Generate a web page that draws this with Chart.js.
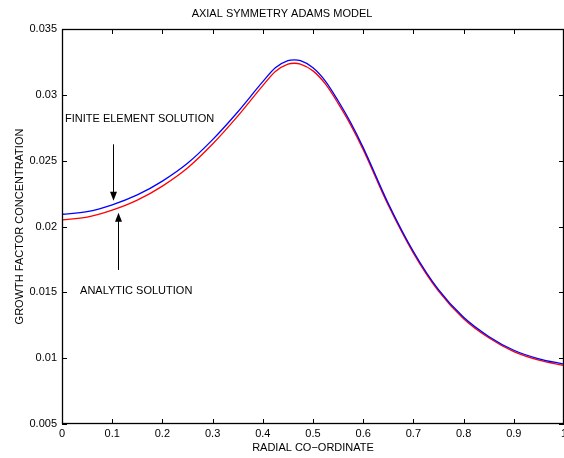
<!DOCTYPE html>
<html>
<head>
<meta charset="utf-8">
<script src="https://cdn.jsdelivr.net/npm/chart.js@4/dist/chart.umd.min.js"></script>
<style>
  html, body { margin: 0; padding: 0; background: #fff; overflow: hidden; }
  #wrap { width: 564px; height: 458px; overflow: hidden; }
</style>
</head>
<body>
<div id="wrap"><canvas id="adamsChart" width="580" height="458"></canvas></div>
<script>
// radial co-ordinate samples
const radius = [0, 0.05, 0.1, 0.15, 0.2, 0.25, 0.3, 0.35, 0.4, 0.425, 0.45, 0.4625, 0.475, 0.5,
  0.525, 0.55, 0.575, 0.6, 0.65, 0.7, 0.75, 0.8, 0.85, 0.9, 0.95, 1.0];

// finite element solution (blue)
const finiteElement = [0.02093, 0.02113, 0.02165, 0.02240, 0.02345, 0.02480, 0.02660, 0.02870,
  0.03100, 0.03205, 0.03259, 0.03265, 0.03259, 0.03206, 0.03103, 0.02955, 0.02790, 0.02600,
  0.02175, 0.01810, 0.01520, 0.01310, 0.01165, 0.01060, 0.00995, 0.00955];

// analytic solution (red)
const analytic = [0.02051, 0.02071, 0.02124, 0.02200, 0.02307, 0.02444, 0.02626, 0.02838,
  0.03070, 0.03177, 0.03233, 0.03240, 0.03234, 0.03182, 0.03081, 0.02935, 0.02772, 0.02584,
  0.02161, 0.01798, 0.01509, 0.01300, 0.01155, 0.01050, 0.00985, 0.00945];

const xTickValues = [0, 0.1, 0.2, 0.3, 0.4, 0.5, 0.6, 0.7, 0.8, 0.9, 1];
const xTickLabels = ['0', '0.1', '0.2', '0.3', '0.4', '0.5', '0.6', '0.7', '0.8', '0.9', '1'];
const yTickValues = [0.005, 0.01, 0.015, 0.02, 0.025, 0.03, 0.035];
const yTickLabels = ['0.005', '0.01', '0.015', '0.02', '0.025', '0.03', '0.035'];

const FONT = { family: '"Liberation Sans", Arial, Helvetica, sans-serif', size: 11 };

// text labels and arrows, placed in data units
const notes = [
  { text: 'FINITE ELEMENT SOLUTION', x: 0.006, y: 0.02816 },
  { text: 'ANALYTIC SOLUTION', x: 0.036, y: 0.0151 }
];
const arrows = [
  { x: 0.102, from: 0.02624, to: 0.02196 },
  { x: 0.112, from: 0.0167, to: 0.02105 }
];

// matlab style box with inward ticks, plus the annotations
const framePlugin = {
  id: 'frame',
  afterDatasetsDraw(chart) {
    const { ctx, chartArea: a, scales: { x, y } } = chart;
    ctx.save();
    ctx.strokeStyle = '#000';
    ctx.lineWidth = 1;
    ctx.beginPath();
    x.ticks.forEach(t => {
      const px = Math.round(x.getPixelForValue(t.value)) + 0.5;
      ctx.moveTo(px, a.bottom); ctx.lineTo(px, a.bottom - 5);
      ctx.moveTo(px, a.top); ctx.lineTo(px, a.top + 5);
    });
    y.ticks.forEach(t => {
      const py = Math.round(y.getPixelForValue(t.value)) + 0.5;
      ctx.moveTo(a.left, py); ctx.lineTo(a.left + 5, py);
      ctx.moveTo(a.right, py); ctx.lineTo(a.right - 5, py);
    });
    ctx.stroke();
    ctx.lineWidth = 1.3;
    ctx.strokeRect(a.left + 0.5, a.top + 0.5, a.right - a.left - 1, a.bottom - a.top - 1);

    ctx.fillStyle = '#000';
    ctx.font = FONT.size + 'px ' + FONT.family;
    ctx.textBaseline = 'middle';
    ctx.textAlign = 'left';
    notes.forEach(n => ctx.fillText(n.text, x.getPixelForValue(n.x), y.getPixelForValue(n.y)));

    ctx.lineWidth = 1;
    arrows.forEach(ar => {
      const px = Math.round(x.getPixelForValue(ar.x)) + 0.5;
      const y0 = y.getPixelForValue(ar.from);
      const y1 = y.getPixelForValue(ar.to);
      const dir = y1 > y0 ? 1 : -1;
      ctx.beginPath();
      ctx.moveTo(px, y0); ctx.lineTo(px, y1 - dir * 7);
      ctx.stroke();
      ctx.beginPath();
      ctx.moveTo(px, y1);
      ctx.lineTo(px - 3.5, y1 - dir * 9);
      ctx.lineTo(px + 3.5, y1 - dir * 9);
      ctx.closePath();
      ctx.fill();
    });
    ctx.restore();
  }
};

new Chart(document.getElementById('adamsChart').getContext('2d'), {
  type: 'line',
  data: {
    datasets: [
      {
        label: 'Finite element solution',
        data: radius.map((r, i) => ({ x: r, y: finiteElement[i] })),
        borderColor: '#0000ff',
        borderWidth: 1.3,
        pointRadius: 0,
        cubicInterpolationMode: 'monotone',
        fill: false
      },
      {
        label: 'Analytic solution',
        data: radius.map((r, i) => ({ x: r, y: analytic[i] })),
        borderColor: '#ff0000',
        borderWidth: 1.3,
        pointRadius: 0,
        cubicInterpolationMode: 'monotone',
        fill: false
      }
    ]
  },
  options: {
    responsive: false,
    animation: false,
    devicePixelRatio: 1,
    layout: { padding: { left: 0, right: 16, top: 0, bottom: 0 } },
    plugins: {
      legend: { display: false },
      tooltip: { enabled: false },
      title: {
        display: true,
        text: 'AXIAL SYMMETRY ADAMS MODEL',
        color: '#000',
        font: { ...FONT, weight: 'normal' },
        padding: { top: 7, bottom: 8.8 }
      }
    },
    scales: {
      x: {
        type: 'linear',
        min: 0,
        max: 1,
        afterFit: s => { s.height = 34; },
        afterBuildTicks: s => { s.ticks = xTickValues.map(v => ({ value: v })); },
        grid: { display: false, drawTicks: false },
        border: { display: false },
        ticks: {
          color: '#000',
          font: FONT,
          padding: 3,
          maxRotation: 0,
          autoSkip: false,
          callback: (v, i) => xTickLabels[i]
        },
        title: {
          display: true,
          text: 'RADIAL CO\u2212ORDINATE',
          color: '#000',
          font: FONT,
          padding: { top: 0, bottom: 3 }
        }
      },
      y: {
        type: 'linear',
        min: 0.005,
        max: 0.035,
        afterFit: s => { s.width = 62; },
        afterBuildTicks: s => { s.ticks = yTickValues.map(v => ({ value: v })); },
        grid: { display: false, drawTicks: false },
        border: { display: false },
        ticks: {
          color: '#000',
          font: FONT,
          padding: 5,
          autoSkip: false,
          callback: (v, i) => yTickLabels[i]
        },
        title: {
          display: true,
          text: 'GROWTH FACTOR CONCENTRATION',
          color: '#000',
          font: FONT,
          padding: { top: 13.4, bottom: 0 }
        }
      }
    }
  },
  plugins: [framePlugin]
});
</script>
</body>
</html>
